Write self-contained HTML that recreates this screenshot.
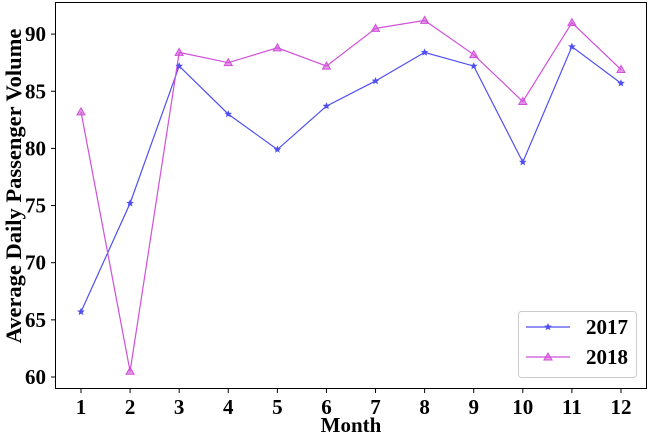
<!DOCTYPE html>
<html><head><meta charset="utf-8"><style>
html,body{margin:0;padding:0;background:#fff;}
svg{display:block;}
text{font-family:"Liberation Serif","Times New Roman",Times,serif;font-weight:700;}
</style></head><body>
<svg id="c" width="650" height="435" xmlns="http://www.w3.org/2000/svg"></svg>
<script>
const s=document.getElementById('c');
const X=m=>81+(m-1)*49.09, Y=v=>377-(v-60)*11.43;
let h='<rect x="55.5" y="2.5" width="591" height="386" fill="none" stroke="#000" stroke-width="1"/>';
for(let v=60;v<=90;v+=5){const y=Y(v);h+=`<line x1="51" x2="55.5" y1="${y}" y2="${y}" stroke="#000"/><text x="46" y="${y+7}" font-size="21" text-anchor="end">${v}</text>`;}
for(let m=1;m<=12;m++){const x=X(m);h+=`<line x1="${x}" x2="${x}" y1="388.5" y2="393" stroke="#000"/><text x="${x}" y="414" font-size="21" text-anchor="middle">${m}</text>`;}
h+='<text x="351" y="432" font-size="21" text-anchor="middle">Month</text>';
h+='<text transform="translate(21,186) rotate(-90)" font-size="22.5" text-anchor="middle">Average Daily Passenger Volume</text>';
const d1=[65.7,75.2,87.2,83.0,79.9,83.7,85.9,88.4,87.2,78.8,88.9,85.7];
const d2=[83.2,60.5,88.4,87.5,88.8,87.2,90.5,91.2,88.2,84.1,91.0,86.9];
const c1='#5050f0',c2='#d050d8';
function star(x,y,c){let p=[];for(let i=0;i<10;i++){const r=i%2?1.8:4,a=-Math.PI/2+i*Math.PI/5;p.push((x+r*Math.cos(a)).toFixed(1)+','+(y+r*Math.sin(a)).toFixed(1));}return `<polygon points="${p.join(' ')}" fill="${c}"/>`;}
function tri(x,y,c){return `<polygon points="${x},${y-4} ${x-4},${y+3} ${x+4},${y+3}" fill="${c}" fill-opacity="0.6" stroke="${c}" stroke-width="1"/>`;}
h+=`<polyline fill="none" stroke="${c1}" stroke-width="1.2" points="${d1.map((v,i)=>X(i+1)+','+Y(v)).join(' ')}"/>`;
h+=`<polyline fill="none" stroke="${c2}" stroke-width="1.2" points="${d2.map((v,i)=>X(i+1)+','+Y(v)).join(' ')}"/>`;
d1.forEach((v,i)=>h+=star(X(i+1),Y(v),c1));
d2.forEach((v,i)=>h+=tri(X(i+1),Y(v),c2));
h+='<rect x="518.5" y="311.5" width="118" height="66" rx="3" fill="#fff" stroke="#ccc"/>';
h+=`<line x1="526" x2="570" y1="327" y2="327" stroke="${c1}" stroke-width="1.2"/>`+star(548,327,c1);
h+=`<line x1="526" x2="570" y1="357" y2="357" stroke="${c2}" stroke-width="1.2"/>`+tri(548,357,c2);
h+='<text x="586" y="334" font-size="21">2017</text><text x="586" y="364" font-size="21">2018</text>';
s.innerHTML=h;
</script>
</body></html>
